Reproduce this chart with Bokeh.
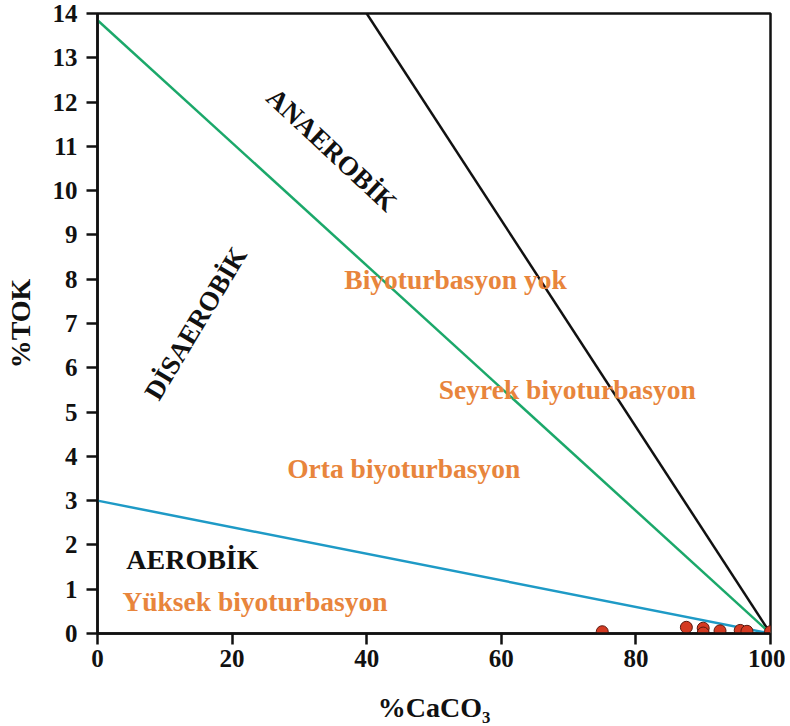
from bokeh.plotting import figure
from bokeh.models import Range1d, FixedTicker
from bokeh.core.properties import value
from bokeh.embed import file_html
from bokeh.resources import INLINE

# Boundary lines (endpoints)
anaerobic_x = [40, 100]
anaerobic_y = [14, 0]
dysaerobic_x = [0, 100]
dysaerobic_y = [13.85, 0]
aerobic_x = [0, 100]
aerobic_y = [3, 0]

# Samples
caco3 = [75, 87.5, 90, 90, 92.5, 95.5, 96.5, 100]
tok = [0.04, 0.14, 0.12, 0.01, 0.06, 0.07, 0.05, 0.04]

x_ticks = [0, 20, 40, 60, 80, 100]
y_ticks = list(range(0, 15))

FONT = "Liberation Serif"
ORANGE = "#E8853C"

p = figure(width=785, height=725, x_range=Range1d(0, 100), y_range=Range1d(0, 14),
           output_backend="svg", toolbar_location=None,
           min_border_left=97, min_border_right=15, min_border_top=13, min_border_bottom=92)

p.xgrid.visible = False
p.ygrid.visible = False
p.outline_line_color = "#111111"
p.outline_line_width = 2.5

for ax in (p.xaxis[0], p.yaxis[0]):
    ax.axis_line_width = 2.5
    ax.axis_line_color = "#111111"
    ax.major_tick_line_width = 2.5
    ax.major_tick_line_color = "#111111"
    ax.major_tick_in = 0
    ax.major_tick_out = 11
    ax.minor_tick_line_color = None
    ax.major_label_text_font = FONT
    ax.major_label_text_font_style = "bold"
    ax.major_label_text_font_size = "25px"
    ax.major_label_text_color = "#111111"
    ax.axis_label_text_font = FONT
    ax.axis_label_text_font_style = "bold"
    ax.axis_label_text_font_size = "28px"
    ax.axis_label_text_color = "#111111"

p.xaxis.ticker = FixedTicker(ticks=x_ticks)
p.yaxis.ticker = FixedTicker(ticks=y_ticks)
p.xaxis.axis_label = "%CaCO₃"
p.yaxis.axis_label = "%TOK"
p.xaxis.major_label_standoff = 5
p.yaxis.major_label_standoff = 9
p.xaxis.axis_label_standoff = 22
p.yaxis.axis_label_standoff = 14

p.line(anaerobic_x, anaerobic_y, line_color="#111111", line_width=2.5)
p.line(dysaerobic_x, dysaerobic_y, line_color="#1BA86A", line_width=2.5)
p.line(aerobic_x, aerobic_y, line_color="#1E9AC6", line_width=2.5)

p.scatter(caco3, tok, size=12, fill_color="#D43A22", line_color="#5a1a10", line_width=1)

def label(x, y, txt, color, size, angle=0.0):
    p.text(x=[x], y=[y], text=[txt], angle=angle, text_align="center", text_baseline="middle",
           text_font=value(FONT), text_font_style="bold", text_font_size=size, text_color=color)

label(34.8, 10.92, "ANAEROBİK", "#111111", "27px", angle=-0.75)
label(14.6, 7.0, "DİSAEROBİK", "#111111", "27px", angle=1.03)
label(14.1, 1.67, "AEROBİK", "#111111", "28px")
label(53.2, 7.99, "Biyoturbasyon yok", ORANGE, "27.5px")
label(69.8, 5.51, "Seyrek biyoturbasyon", ORANGE, "27.5px")
label(45.5, 3.73, "Orta biyoturbasyon", ORANGE, "27.5px")
label(23.4, 0.72, "Yüksek biyoturbasyon", ORANGE, "27.5px")

open("out.html", "w").write(file_html(p, INLINE))
